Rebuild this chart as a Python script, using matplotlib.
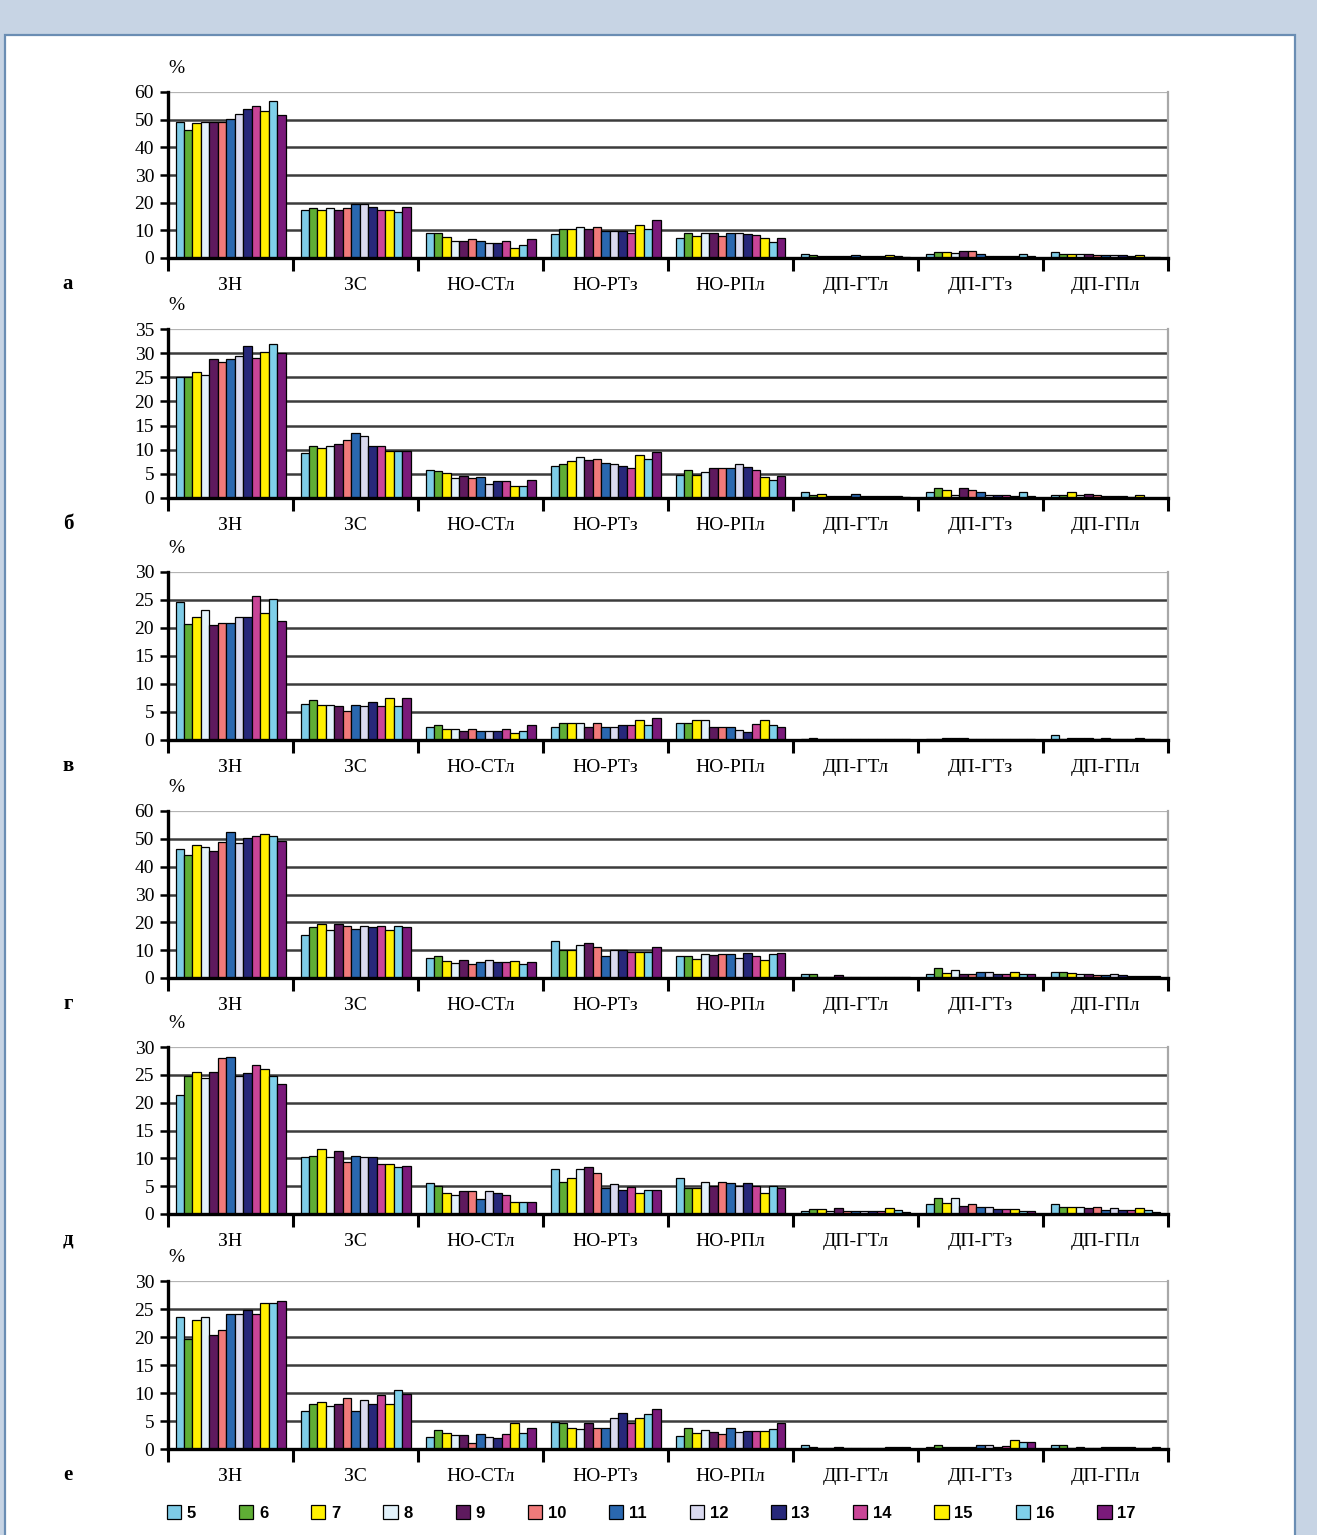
import matplotlib
matplotlib.use("Agg")
import matplotlib.pyplot as plt
from matplotlib.patches import Rectangle, Patch

plt.rcParams["font.family"] = ["Liberation Serif", "DejaVu Serif"]

# Category names (x axis) and series names (legend)
categories = ["ЗН", "ЗС", "НО-СТл", "НО-РТз", "НО-РПл", "ДП-ГТл", "ДП-ГТз", "ДП-ГПл"]
series = ["5", "6", "7", "8", "9", "10", "11", "12", "13", "14", "15", "16", "17"]
series_colors = ["#7ecbe6", "#5fae35", "#fff000", "#e2f2fb", "#5e1a5e", "#f07a7a",
                 "#2a68b0", "#d9d9ef", "#27287a", "#c94597", "#fff000", "#7fd0ea", "#7a1a7a"]

# Values per panel: one row per category, one value per series (5..17), %
panel_a = [
    [49.3, 46.3, 48.7, 49.3, 49.3, 49.3, 50.1, 51.9, 53.8, 54.8, 53.1, 56.8, 51.7],
    [17.3, 18.1, 17.3, 18.1, 17.3, 18.1, 19.4, 19.4, 18.3, 17.4, 17.4, 16.6, 18.3],
    [9.1, 9.1, 7.5, 6.1, 6.1, 7.0, 6.1, 5.4, 5.6, 6.2, 3.7, 4.7, 6.9],
    [8.8, 10.4, 10.4, 11.2, 10.6, 11.2, 9.8, 9.8, 9.8, 9.1, 12.0, 10.6, 13.8],
    [7.1, 8.9, 7.9, 8.9, 9.1, 7.9, 9.1, 8.9, 8.5, 8.2, 7.3, 5.7, 7.3],
    [1.6, 1.0, 0.9, 0.9, 0.9, 0.7, 1.0, 0.6, 0.9, 0.6, 1.0, 0.9, 0.5],
    [1.5, 2.2, 2.2, 1.8, 2.4, 2.4, 1.6, 0.9, 0.9, 0.9, 0.9, 1.6, 0.9],
    [2.2, 1.6, 1.6, 1.6, 1.6, 1.2, 1.0, 1.0, 1.0, 0.6, 1.0, 0.5, 0.3],
]
panel_b = [
    [25.1, 25.1, 26.1, 25.4, 28.7, 28.2, 28.7, 29.5, 31.5, 29.0, 30.3, 31.9, 30.1],
    [9.3, 10.7, 10.4, 10.7, 11.2, 12.1, 13.5, 12.9, 10.7, 10.7, 9.8, 9.8, 9.8],
    [5.9, 5.5, 5.1, 4.2, 4.5, 4.2, 4.3, 2.8, 3.6, 3.6, 2.4, 2.4, 3.7],
    [6.6, 7.1, 7.6, 8.5, 7.8, 8.1, 7.2, 7.1, 6.7, 6.2, 8.9, 8.0, 9.6],
    [4.8, 5.9, 4.8, 5.4, 6.2, 6.2, 6.2, 7.1, 6.4, 5.9, 4.3, 3.7, 4.6],
    [1.3, 0.6, 0.9, 0.4, 0.4, 0.4, 0.9, 0.4, 0.4, 0.4, 0.4, 0.4, 0.2],
    [1.2, 2.0, 1.7, 0.6, 2.0, 1.7, 1.2, 0.7, 0.7, 0.7, 0.4, 1.3, 0.4],
    [0.7, 0.7, 1.2, 0.7, 0.9, 0.6, 0.4, 0.4, 0.4, 0.3, 0.6, 0.1, 0.1],
]
panel_v = [
    [24.6, 20.8, 21.9, 23.3, 20.5, 20.9, 20.9, 21.9, 21.9, 25.7, 22.7, 25.2, 21.2],
    [6.4, 7.2, 6.3, 6.3, 6.0, 5.2, 6.3, 6.0, 6.7, 6.0, 7.5, 6.0, 7.5],
    [2.4, 2.7, 2.0, 2.0, 1.6, 2.0, 1.6, 1.6, 1.6, 2.0, 1.3, 1.6, 2.7],
    [2.4, 3.0, 3.0, 3.0, 2.3, 3.0, 2.3, 2.3, 2.7, 2.7, 3.6, 2.7, 3.9],
    [3.0, 3.0, 3.5, 3.5, 2.3, 2.3, 2.3, 1.8, 1.5, 2.8, 3.5, 2.7, 2.3],
    [0.1, 0.4, 0.1, 0.2, 0.2, 0.2, 0.2, 0.1, 0.2, 0.1, 0.2, 0.2, 0.1],
    [0.1, 0.1, 0.3, 0.3, 0.3, 0.1, 0.1, 0.1, 0.1, 0.1, 0.1, 0.1, 0.1],
    [0.9, 0.2, 0.4, 0.4, 0.3, 0.1, 0.4, 0.1, 0.1, 0.1, 0.4, 0.1, 0.1],
]
panel_g = [
    [46.4, 44.2, 47.8, 47.2, 45.8, 49.0, 52.6, 48.6, 50.2, 51.0, 51.7, 51.0, 49.3],
    [15.3, 18.2, 19.4, 17.3, 19.4, 18.8, 17.6, 18.8, 18.2, 18.8, 17.3, 18.8, 18.2],
    [7.2, 7.8, 6.2, 5.4, 6.3, 5.0, 5.6, 6.3, 5.6, 5.6, 6.2, 5.0, 5.6],
    [13.2, 10.2, 9.9, 11.7, 12.6, 11.2, 7.9, 10.2, 10.2, 9.3, 9.3, 9.3, 11.2],
    [7.9, 7.9, 6.9, 8.7, 8.1, 8.8, 8.8, 7.3, 9.0, 7.9, 6.4, 8.7, 9.0],
    [1.3, 1.3, 0.5, 0.5, 1.0, 0.5, 0.4, 0.3, 0.3, 0.3, 0.3, 0.3, 0.3],
    [1.5, 3.5, 1.9, 3.0, 1.3, 1.3, 2.2, 2.2, 1.3, 1.3, 2.1, 1.3, 1.3],
    [2.1, 2.1, 1.7, 1.3, 1.3, 1.0, 1.0, 1.5, 0.9, 0.7, 0.7, 0.7, 0.7],
]
panel_d = [
    [21.4, 24.8, 25.5, 24.5, 25.5, 28.1, 28.2, 24.8, 25.3, 26.8, 26.1, 24.8, 23.4],
    [10.2, 10.5, 11.7, 10.2, 11.4, 9.4, 10.5, 10.2, 10.2, 9.0, 9.0, 8.4, 8.7],
    [5.6, 5.0, 3.8, 3.5, 4.1, 4.1, 2.7, 4.2, 3.8, 3.5, 2.2, 2.2, 2.2],
    [8.0, 5.8, 6.5, 8.0, 8.5, 7.4, 4.7, 5.4, 4.3, 4.9, 3.8, 4.3, 4.3],
    [6.5, 4.6, 4.6, 5.8, 5.0, 5.8, 5.5, 5.0, 5.5, 5.0, 3.8, 5.0, 4.6],
    [0.6, 0.9, 0.9, 0.5, 1.0, 0.6, 0.5, 0.5, 0.5, 0.5, 1.0, 0.7, 0.4],
    [1.8, 2.8, 2.0, 2.8, 1.4, 1.8, 1.3, 1.2, 0.9, 0.9, 0.9, 0.6, 0.6],
    [1.8, 1.3, 1.3, 1.3, 1.0, 1.3, 0.7, 1.0, 0.7, 0.7, 1.0, 0.7, 0.4],
]
panel_e = [
    [23.6, 19.7, 23.1, 23.6, 20.3, 21.3, 24.1, 24.1, 24.9, 24.1, 26.1, 26.1, 26.5],
    [6.7, 8.0, 8.4, 7.7, 8.0, 9.1, 6.8, 8.8, 8.0, 9.7, 8.0, 10.6, 9.8],
    [2.2, 3.4, 2.9, 2.5, 2.5, 1.0, 2.6, 2.1, 1.9, 2.6, 4.6, 2.9, 3.7],
    [4.8, 4.6, 3.8, 3.6, 4.7, 3.8, 3.8, 5.6, 6.5, 4.6, 5.6, 6.2, 7.2],
    [2.3, 3.7, 2.9, 3.4, 3.0, 2.6, 3.7, 3.0, 3.3, 3.3, 3.3, 3.6, 4.7],
    [0.7, 0.4, 0.1, 0.1, 0.3, 0.1, 0.1, 0.1, 0.2, 0.1, 0.3, 0.3, 0.3],
    [0.4, 0.7, 0.4, 0.4, 0.3, 0.4, 0.7, 0.7, 0.4, 0.5, 1.6, 1.2, 1.2],
    [0.8, 0.7, 0.2, 0.4, 0.2, 0.2, 0.3, 0.3, 0.3, 0.3, 0.2, 0.2, 0.3],
]

panel_letters = ["а", "б", "в", "г", "д", "е"]
panel_data = [panel_a, panel_b, panel_v, panel_g, panel_d, panel_e]
panel_ymax = [60, 35, 30, 60, 30, 30]
panel_ystep = [10, 5, 5, 10, 5, 5]

W, H = 1317, 1535
fig = plt.figure(figsize=(W / 100, H / 100), dpi=100)
fig.patch.set_facecolor("#c7d4e4")

# white sheet with a thin steel-blue border, kept behind the axes
fig.patches.append(Rectangle((5 / W, -0.01), 1290 / W, (H - 35) / H + 0.01,
                             transform=fig.transFigure, facecolor="white",
                             edgecolor="#6a8db3", lw=1.6, zorder=-5))

# plot areas in pixels: (top, bottom)
panel_px = [(92, 258), (329, 498), (572, 740), (811, 978), (1047, 1214), (1281, 1449)]
left_px, right_px = 168, 1168

n_series = len(series)
group = 0.88
bw = group / n_series

for letter, data, ymax, ystep, (top, bot) in zip(panel_letters, panel_data, panel_ymax,
                                                  panel_ystep, panel_px):
    ax = fig.add_axes([left_px / W, 1 - bot / H, (right_px - left_px) / W, (bot - top) / H])
    ax.set_zorder(2)
    ax.set_facecolor("none")
    for i, row in enumerate(data):
        for j, v in enumerate(row):
            ax.bar(i + (1 - group) / 2 + (j + 0.5) * bw, v, width=bw,
                   color=series_colors[j], edgecolor="black", linewidth=0.9, zorder=3)
    ax.set_xlim(0, len(categories))
    ax.set_ylim(0, ymax)

    yt = list(range(0, ymax + 1, ystep))
    ax.set_yticks(yt)
    ax.set_yticklabels([str(t) for t in yt], fontsize=14)
    for t in yt[1:-1]:
        ax.axhline(t, color="#3c3c3c", lw=1.8, zorder=1)
    ax.axhline(ymax, color="#b4b4b4", lw=1.6, zorder=1)

    ax.set_xticks(range(len(categories) + 1))
    ax.set_xticklabels([])
    ax.set_xticks([i + 0.5 for i in range(len(categories))], minor=True)
    ax.set_xticklabels(categories, minor=True, fontsize=14)
    ax.tick_params(axis="x", which="major", length=9, width=2.2, direction="out", color="black")
    ax.tick_params(axis="x", which="minor", length=0, pad=14)
    ax.tick_params(axis="y", length=6, width=1.8, direction="out", pad=4)

    ax.spines["top"].set_visible(False)
    ax.spines["right"].set_color("#a8a8a8")
    ax.spines["right"].set_linewidth(1.6)
    for s in ("left", "bottom"):
        ax.spines[s].set_linewidth(2.4)
        ax.spines[s].set_color("black")
        ax.spines[s].set_zorder(4)

    ax.annotate("%", xy=(0, 1), xycoords="axes fraction", xytext=(6, 17),
                textcoords="offset points", ha="center", va="center", fontsize=14)
    fig.text(68 / W, 1 - (bot + 26) / H, letter, ha="center", va="center",
             fontsize=15, fontweight="bold")

handles = [Patch(facecolor=c, edgecolor="black", linewidth=0.9) for c in series_colors]
leg = fig.legend(handles, series, loc="center", bbox_to_anchor=(0.4945, 1 - 1513 / H),
                 ncol=n_series, frameon=False, handlelength=0.85, handleheight=0.85,
                 handletextpad=0.35, columnspacing=2.58,
                 prop={"family": "Liberation Sans", "weight": "bold", "size": 12})

fig.savefig("out.png", dpi=100, facecolor=fig.get_facecolor())
